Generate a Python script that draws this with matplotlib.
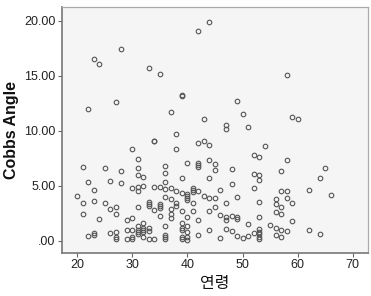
import matplotlib
matplotlib.use("Agg")
import matplotlib.pyplot as plt
from matplotlib.ticker import FuncFormatter

# age (연령) and Cobbs angle, one pair per patient, grouped by age
ages = [
    20,
    21, 21, 21,
    22, 22, 22,
    23, 23, 23, 23, 23,
    24, 24,
    25, 25,
    26, 26, 26,
    27, 27, 27, 27, 27, 27,
    28, 28, 28,
    29, 29, 29,
    30, 30, 30, 30, 30, 30,
    31, 31, 31, 31, 31, 31, 31, 31, 31, 31,
    32, 32, 32, 32, 32, 32, 32,
    33, 33, 33, 33, 33, 33, 33,
    34, 34, 34, 34, 34,
    35, 35, 35, 35, 35, 35,
    36, 36, 36, 36, 36, 36, 36, 36, 36,
    37, 37, 37, 37, 37, 37,
    38, 38, 38, 38, 38,
    39, 39, 39, 39, 39, 39, 39, 39, 39, 39,
    40, 40, 40, 40, 40, 40, 40, 40, 40, 40,
    41, 41, 41, 41, 41,
    42, 42, 42, 42, 42, 42, 42, 42,
    43, 43, 43,
    44, 44, 44, 44, 44, 44, 44,
    45, 45, 45, 45,
    46, 46, 46,
    47, 47, 47, 47, 47, 47,
    48, 48, 48, 48,
    49, 49, 49, 49, 49,
    50, 50,
    51, 51, 51,
    52, 52, 52, 52,
    53, 53, 53, 53, 53, 53, 53, 53, 53, 53,
    54,
    55,
    56, 56, 56, 56, 56,
    57, 57, 57, 57, 57, 57,
    58, 58, 58, 58, 58,
    59, 59, 59,
    60,
    62, 62,
    64, 64,
    65,
    66,
]

cobbs_angle = [
    4.06,
    6.76, 3.42, 2.42,
    12.0, 5.33, 0.42,
    16.55, 4.67, 3.67, 0.73, 0.56,
    16.1, 2.0,
    6.67, 3.49,
    5.45, 2.91, 0.73,
    12.6, 3.06, 2.45, 0.85, 0.36, 0.2,
    17.4, 6.33, 5.24,
    1.91, 1.0, 0.18,
    8.4, 4.79, 2.12, 1.0, 0.33, 0.18,
    7.48, 6.64, 5.97, 4.94, 4.58, 3.06, 1.39, 1.0, 0.82, 0.6,
    5.79, 5.0, 1.64, 1.21, 1.0, 0.79, 0.33,
    15.7, 3.55, 3.33, 3.15, 1.15, 0.88, 0.2,
    9.12, 9.05, 4.91, 2.85, 0.2,
    15.2, 4.91, 3.4, 3.2, 3.0, 2.3,
    6.85, 6.18, 5.39, 4.73, 4.03, 1.36, 0.55, 0.36, 0.18,
    11.7, 4.85, 3.8, 2.88, 2.45, 2.09,
    9.73, 8.4, 4.55, 3.45, 3.2,
    13.25, 13.2, 5.7, 4.39, 2.7, 1.6, 1.18, 1.0, 0.39, 0.2,
    7.06, 4.3, 4.1, 3.9, 3.7, 2.2, 1.39, 0.85, 0.33, 0.12,
    4.85, 4.64, 4.42, 3.42, 2.76,
    19.1, 8.9, 7.12, 6.9, 6.7, 4.58, 1.94, 0.55,
    11.06, 9.1, 4.09,
    19.9, 8.75, 7.36, 5.76, 3.88, 2.73, 1.0,
    7.0, 6.45, 3.88, 3.09,
    4.6, 2.36, 0.24,
    10.5, 10.15, 3.42, 2.15, 1.91, 1.12,
    6.58, 5.21, 2.24, 0.91,
    12.7, 4.03, 2.2, 1.97, 0.42,
    11.5, 0.24,
    10.4, 1.55, 0.48,
    7.79, 6.09, 4.82, 0.7,
    7.6, 6.03, 5.58, 3.52, 2.18, 1.06, 0.85, 0.64, 0.39, 0.21,
    8.67,
    1.45,
    3.79, 3.36, 2.6, 1.21, 0.55,
    6.36, 4.58, 3.12, 2.45, 1.0, 0.36,
    15.1, 7.36, 4.58, 3.88, 0.94,
    11.24, 3.42, 1.82,
    11.1,
    4.64, 1.0,
    5.73, 0.61,
    6.6,
    4.18,
]

x_ticks = [20, 30, 40, 50, 60, 70]
y_ticks = [0, 5, 10, 15, 20]

assert len(ages) == len(cobbs_angle)

fig = plt.figure(figsize=(3.71, 2.96), dpi=100)
ax = fig.add_axes([0.167, 0.145, 0.825, 0.831])
ax.set_facecolor("#f5f5f5")

ax.plot(ages, cobbs_angle, linestyle="none", marker="o", markersize=3.3,
        markerfacecolor="none", markeredgecolor="#555555", markeredgewidth=0.8)

ax.set_xlim(17.2, 72.8)
ax.set_ylim(-1.1, 21.25)
ax.set_xticks(x_ticks)
ax.set_yticks(y_ticks)

# SPSS style labels: 20.00 ... .00
def spss_fmt(v, pos):
    s = "%.2f" % v
    if s.startswith("0"):
        s = s[1:]
    return s

ax.yaxis.set_major_formatter(FuncFormatter(spss_fmt))

for lab in ax.get_xticklabels() + ax.get_yticklabels():
    lab.set_family("Liberation Sans")
    lab.set_fontsize(9)
    lab.set_color("#222222")

ax.tick_params(direction="out", length=3, width=0.8, color="#666666", pad=1.5)

for side in ["left", "bottom"]:
    ax.spines[side].set_color("#777777")
    ax.spines[side].set_linewidth(1.2)
for side in ["top", "right"]:
    ax.spines[side].set_color("#aaaaaa")
    ax.spines[side].set_linewidth(0.9)

ax.set_ylabel("Cobbs Angle", family="Liberation Sans", fontweight="bold",
              fontsize=11.5, color="#111111", labelpad=4)
ax.set_xlabel("연령", family=["Noto Sans CJK KR", "DejaVu Sans"],
              fontsize=11.5, color="#111111", labelpad=3)

fig.savefig("out.png", dpi=100)
